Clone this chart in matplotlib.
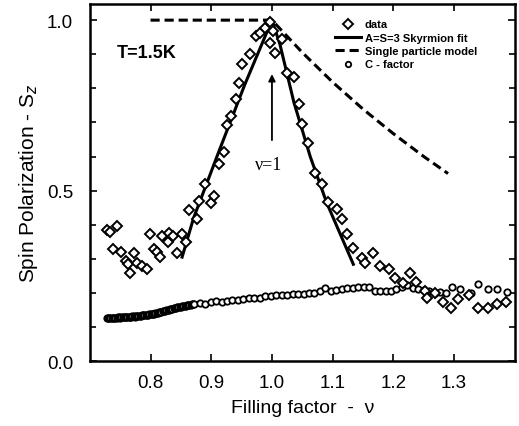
import matplotlib.pyplot as plt
from matplotlib.ticker import MultipleLocator

plt.rcParams['font.family'] = ['Liberation Sans', 'DejaVu Sans']

# diamonds : data
nu_data = [0.729, 0.745, 0.734, 0.739, 0.751, 0.759, 0.763, 0.766, 0.772, 0.778,
           0.786, 0.794, 0.799, 0.805, 0.811, 0.816, 0.819, 0.828, 0.830, 0.837,
           0.844, 0.852, 0.858, 0.863, 0.877, 0.880, 0.890, 0.899, 0.905, 0.912,
           0.921, 0.926, 0.932, 0.940, 0.945, 0.951, 0.964, 0.973, 0.980, 0.989,
           0.997, 0.997, 1.002, 1.005, 1.017, 1.025, 1.036, 1.044, 1.049, 1.060,
           1.071, 1.082, 1.092, 1.107, 1.115, 1.123, 1.134, 1.148, 1.154, 1.166,
           1.178, 1.192, 1.203, 1.215, 1.228, 1.238, 1.252, 1.255, 1.269, 1.282,
           1.295, 1.307, 1.324, 1.340, 1.356, 1.370, 1.386]
sz_data = [0.385, 0.395, 0.378, 0.330, 0.320, 0.294, 0.284, 0.258, 0.316, 0.289,
           0.279, 0.270, 0.372, 0.328, 0.320, 0.304, 0.367, 0.348, 0.377, 0.367,
           0.317, 0.372, 0.348, 0.442, 0.418, 0.470, 0.519, 0.465, 0.485, 0.578,
           0.614, 0.692, 0.720, 0.768, 0.815, 0.871, 0.900, 0.954, 0.963, 0.978,
           0.994, 0.934, 0.969, 0.905, 0.944, 0.846, 0.832, 0.753, 0.695, 0.641,
           0.553, 0.519, 0.468, 0.446, 0.418, 0.374, 0.333, 0.302, 0.287, 0.317,
           0.278, 0.270, 0.245, 0.228, 0.258, 0.232, 0.206, 0.186, 0.201, 0.174,
           0.155, 0.183, 0.195, 0.156, 0.157, 0.167, 0.172]

# A=S=3 Skyrmion fit
nu_fit = [0.852, 0.871, 0.912, 0.955, 1.0, 1.013, 1.036, 1.063, 1.09, 1.134]
sz_fit = [0.305, 0.42, 0.612, 0.81, 1.0, 0.93, 0.76, 0.60, 0.465, 0.284]

# single particle model
nu_sp = [0.80, 1.0, 1.05, 1.10, 1.15, 1.20, 1.25, 1.29]
sz_sp = [1.0, 1.0, 0.905, 0.818, 0.739, 0.667, 0.600, 0.550]

# C - factor
nu_c = [0.728, 0.730, 0.732, 0.734, 0.736, 0.738, 0.740, 0.742, 0.744, 0.746,
        0.748, 0.750, 0.752, 0.754, 0.756, 0.758, 0.760, 0.762, 0.764, 0.766,
        0.768, 0.770, 0.772, 0.774, 0.776, 0.778, 0.780, 0.782, 0.784, 0.786,
        0.788, 0.790, 0.792, 0.794, 0.796, 0.798, 0.800, 0.802, 0.804, 0.806,
        0.808, 0.810, 0.812, 0.814, 0.816, 0.818, 0.820, 0.822, 0.824, 0.826,
        0.828, 0.830, 0.832, 0.834, 0.836, 0.838, 0.840, 0.842, 0.844, 0.846,
        0.848, 0.850, 0.852, 0.854, 0.856, 0.858, 0.860, 0.862, 0.864, 0.866,
        0.868, 0.870, 0.872,
        0.881, 0.890, 0.899, 0.908, 0.917, 0.926, 0.935, 0.944, 0.953, 0.962,
        0.971, 0.980, 0.989, 0.998, 1.007, 1.016, 1.025, 1.034, 1.043, 1.052,
        1.061, 1.070, 1.079, 1.088, 1.097, 1.106, 1.115, 1.124, 1.133, 1.142,
        1.151, 1.160, 1.169, 1.178, 1.187, 1.196, 1.205, 1.214, 1.223, 1.232,
        1.241, 1.250, 1.259, 1.268, 1.277, 1.286, 1.296, 1.310, 1.327, 1.340,
        1.356, 1.370, 1.387]
sz_c = [0.125, 0.126, 0.126, 0.125, 0.126, 0.127, 0.127, 0.126, 0.127, 0.128,
        0.128, 0.127, 0.128, 0.129, 0.129, 0.128, 0.129, 0.130, 0.130, 0.129,
        0.130, 0.131, 0.131, 0.130, 0.131, 0.132, 0.132, 0.133, 0.133, 0.134,
        0.134, 0.135, 0.135, 0.136, 0.136, 0.137, 0.137, 0.138, 0.138, 0.139,
        0.140, 0.141, 0.142, 0.143, 0.144, 0.145, 0.146, 0.147, 0.148, 0.149,
        0.150, 0.151, 0.152, 0.153, 0.154, 0.155, 0.156, 0.157, 0.158, 0.159,
        0.160, 0.160, 0.161, 0.162, 0.162, 0.163, 0.164, 0.164, 0.165, 0.165,
        0.166, 0.167, 0.168,
        0.170, 0.168, 0.172, 0.175, 0.173, 0.177, 0.178, 0.180, 0.182, 0.184,
        0.185, 0.186, 0.190, 0.192, 0.194, 0.193, 0.195, 0.196, 0.196, 0.198,
        0.201, 0.200, 0.206, 0.214, 0.206, 0.208, 0.212, 0.213, 0.214, 0.216,
        0.218, 0.218, 0.206, 0.205, 0.207, 0.206, 0.210, 0.218, 0.222, 0.215,
        0.211, 0.208, 0.205, 0.200, 0.203, 0.200, 0.216, 0.211, 0.201, 0.226,
        0.211, 0.211, 0.203]

fig = plt.figure(figsize=(5.19, 4.27), dpi=100)
ax = fig.add_axes([0.173, 0.152, 0.819, 0.836])

ax.plot(nu_data, sz_data, 'D', mfc='white', mec='black', ms=5.5, mew=1.4,
        label='data', zorder=3)
ax.plot(nu_fit, sz_fit, '-', color='black', lw=2.2, label='A=S=3 Skyrmion fit')
ax.plot(nu_sp, sz_sp, '--', color='black', lw=2.2, dashes=(3, 1.6),
        label='Single particle model')
ax.plot(nu_c, sz_c, 'o', mfc='white', mec='black', ms=4.6, mew=1.3,
        label='C - factor', zorder=2)

ax.annotate('', xy=(1.0, 0.85), xytext=(1.0, 0.64),
            arrowprops=dict(arrowstyle='-|>', color='black', lw=1.3,
                            mutation_scale=10))
ax.text(0.995, 0.578, 'ν=1', ha='center', va='center', fontsize=13,
        family=['Liberation Serif', 'DejaVu Serif'])
ax.text(0.745, 0.906, 'T=1.5K', ha='left', va='center', fontsize=13,
        fontweight='bold')

ax.set_xlim(0.70, 1.40)
ax.set_ylim(0.0, 1.047)
ax.yaxis.set_major_locator(MultipleLocator(0.5))
ax.yaxis.set_minor_locator(MultipleLocator(0.1))
ax.set_xticks([0.8, 0.9, 1.0, 1.1, 1.2, 1.3])
ax.tick_params(which='both', direction='in', top=True, right=True,
               labelsize=13.5, width=1.2)
ax.tick_params(axis='x', pad=9)
ax.tick_params(axis='y', pad=12)
ax.tick_params(which='major', length=5)
ax.tick_params(which='minor', length=4)
for s in ax.spines.values():
    s.set_linewidth(1.8)

ax.set_xlabel('Filling factor  -  ν', fontsize=14, labelpad=6)
ax.set_ylabel('Spin Polarization - S$_z$', fontsize=15, labelpad=5)

ax.legend(loc='upper left', bbox_to_anchor=(0.578, 0.957), frameon=False,
          prop={'weight': 'bold', 'size': 8}, handlelength=2.3,
          handletextpad=0.35, labelspacing=0.3, borderpad=0,
          borderaxespad=0, markerscale=0.85)

fig.savefig('out.png', dpi=100)
